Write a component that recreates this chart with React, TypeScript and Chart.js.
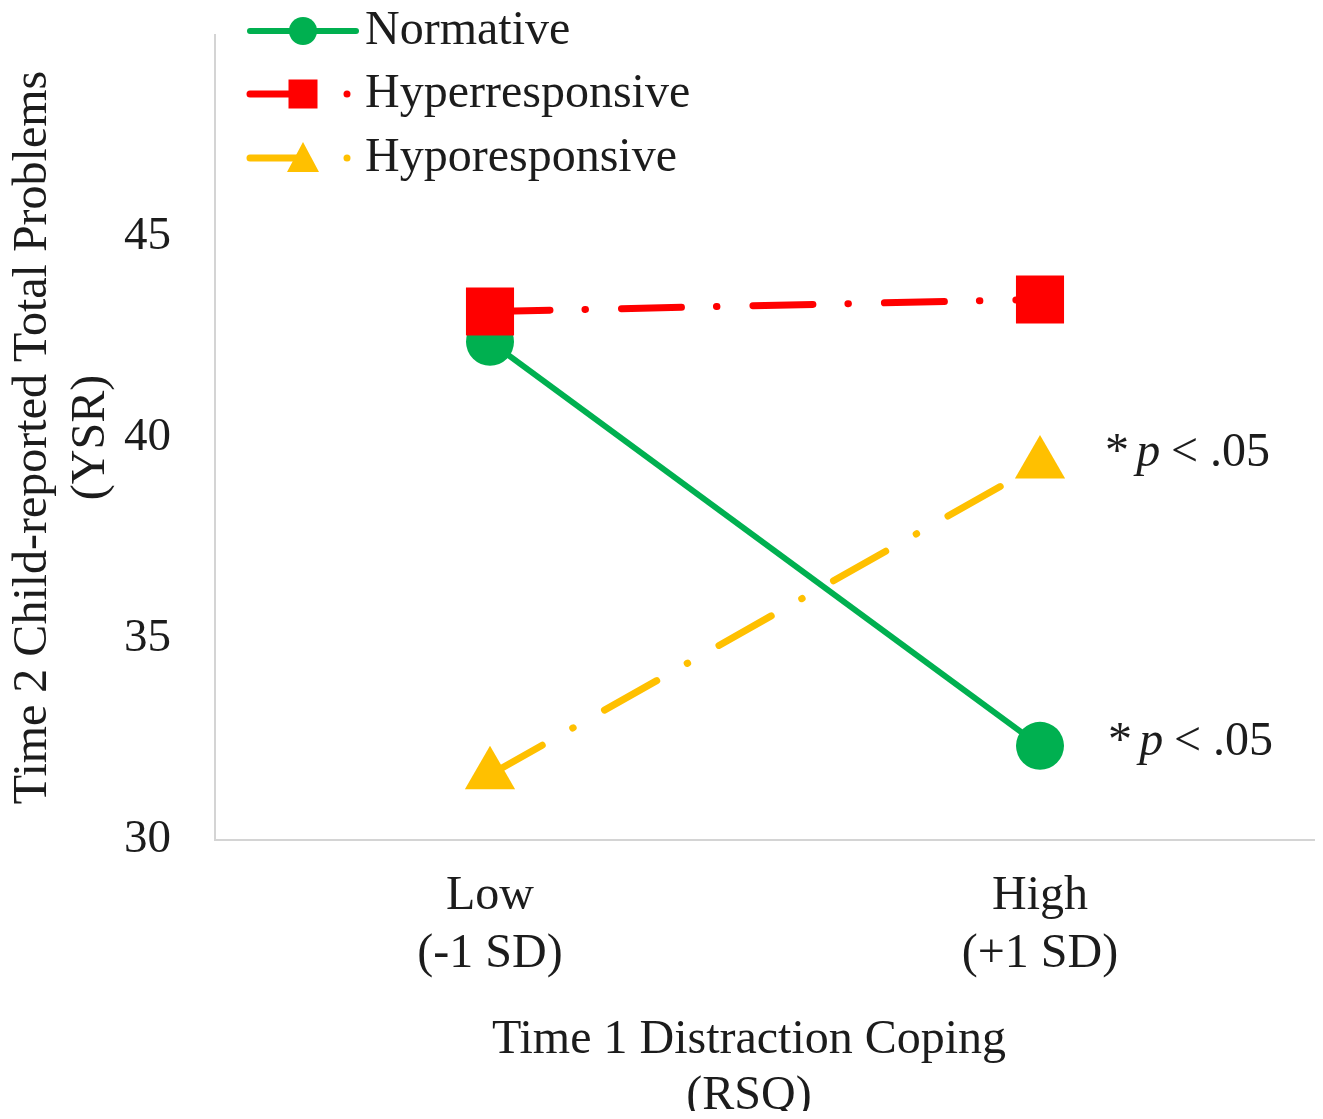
import React, { useEffect, useRef } from 'react';
import { Chart, registerables } from 'chart.js';

Chart.register(...registerables);

// ---- data ----
const categories: string[][] = [['Low', '(-1 SD)'], ['High', '(+1 SD)']];
const seriesNames = ['Normative', 'Hyperresponsive', 'Hyporesponsive'];
const normative = [42.38, 32.34];
const hyperresponsive = [43.13, 43.43];
const hyporesponsive = [31.62, 39.34];
const yTickValues = [30, 35, 40, 45];
const yAxisTitle = ['Time 2 Child-reported Total Problems', '(YSR)'];
const xAxisTitle = ['Time 1 Distraction Coping', '(RSQ)'];
const significanceLabel = ['*', 'p', '< .05'];
// which points carry the significance label: [dataset index, point index]
const significantPoints = [[2, 1], [0, 1]];

const GREEN = '#00B050';
const RED = '#FF0000';
const YELLOW = '#FFC000';
const TEXT = '#1c1c1c';
const FONT = 'Liberation Serif';
const FS = 48;

const overlayPlugin = {
  id: 'overlay',
  afterDraw(chart: any) {
    const ctx = chart.ctx;
    const ca = chart.chartArea;
    ctx.save();
    // legend
    const lx0 = ca.left + 35;
    const lx1 = ca.left + 141;
    const mx = ca.left + 88;
    const dotX = ca.left + 132;
    const tx = ca.left + 150;
    const rows = [ca.top - 4, ca.top + 59, ca.top + 123];
    const colors = [GREEN, RED, YELLOW];
    rows.forEach((y, i) => {
      const c = colors[i];
      ctx.strokeStyle = c;
      ctx.fillStyle = c;
      ctx.lineCap = 'round';
      ctx.setLineDash([]);
      if (i === 0) {
        ctx.lineWidth = 6;
        ctx.beginPath();
        ctx.moveTo(lx0, y);
        ctx.lineTo(lx1, y);
        ctx.stroke();
        ctx.beginPath();
        ctx.arc(mx, y, 14, 0, Math.PI * 2);
        ctx.fill();
      } else {
        ctx.lineWidth = 7;
        ctx.beginPath();
        ctx.moveTo(lx0, y);
        ctx.lineTo(mx, y);
        ctx.stroke();
        if (i === 1) {
          ctx.fillRect(mx - 14.5, y - 14.5, 29, 29);
        } else {
          ctx.beginPath();
          ctx.moveTo(mx, y - 16);
          ctx.lineTo(mx + 16, y + 14);
          ctx.lineTo(mx - 16, y + 14);
          ctx.closePath();
          ctx.fill();
        }
        ctx.beginPath();
        ctx.arc(dotX, y, 3.5, 0, Math.PI * 2);
        ctx.fill();
      }
      ctx.fillStyle = TEXT;
      ctx.font = `${FS}px "${FONT}"`;
      ctx.textAlign = 'left';
      ctx.textBaseline = 'middle';
      ctx.fillText(seriesNames[i], tx, y);
    });

    // x-axis title (slightly left of the plot centre, as in the original)
    ctx.fillStyle = TEXT;
    ctx.font = `${FS}px "${FONT}"`;
    ctx.textAlign = 'center';
    ctx.textBaseline = 'middle';
    const xc = (ca.left + ca.right) / 2 - 16;
    xAxisTitle.forEach((line, i) => {
      ctx.fillText(line, xc, ca.bottom + 200 + i * 56);
    });

    // significance labels
    const offsets = [-11, -3];
    significantPoints.forEach(([di, pi], k) => {
      const el = chart.getDatasetMeta(di).data[pi];
      let x = el.x + 65 + (k === 1 ? 3 : 0);
      const y = el.y + offsets[k];
      ctx.fillStyle = TEXT;
      ctx.textAlign = 'left';
      ctx.textBaseline = 'middle';
      significanceLabel.forEach((part, j) => {
        ctx.font = j === 1 ? `italic ${FS}px "${FONT}"` : `${FS}px "${FONT}"`;
        ctx.fillText(part, x, y);
        x += ctx.measureText(part).width + ctx.measureText(' ').width * (j === 1 ? 0.9 : 0.6);
      });
    });
    ctx.restore();
  },
};

const zeroPadding = (s: any) => {
  s.paddingTop = 0;
  s.paddingBottom = 0;
  s.paddingLeft = 0;
  s.paddingRight = 0;
};

export default function App() {
  const ref = useRef<HTMLCanvasElement | null>(null);
  useEffect(() => {
    if (!ref.current) return;
    const dash = [60, 35, 0.5, 36];
    const chart = new Chart(ref.current, {
      type: 'line',
      data: {
        labels: categories,
        datasets: [
          {
            label: seriesNames[0],
            data: normative,
            borderColor: GREEN,
            backgroundColor: GREEN,
            borderWidth: 6,
            pointStyle: 'circle',
            pointRadius: 24,
            pointBorderWidth: 0,
            tension: 0,
            order: 1,
          },
          {
            label: seriesNames[1],
            data: hyperresponsive,
            borderColor: RED,
            backgroundColor: RED,
            borderWidth: 7,
            borderDash: dash,
            borderCapStyle: 'round',
            pointStyle: 'rect',
            pointRadius: 34,
            pointBorderWidth: 0,
            tension: 0,
            order: 0,
          },
          {
            label: seriesNames[2],
            data: hyporesponsive,
            borderColor: YELLOW,
            backgroundColor: YELLOW,
            borderWidth: 7,
            borderDash: dash,
            borderCapStyle: 'round',
            pointStyle: 'triangle',
            pointRadius: 29,
            pointBorderWidth: 0,
            tension: 0,
            order: 2,
          },
        ],
      },
      options: {
        animation: false,
        responsive: false,
        maintainAspectRatio: false,
        layout: { autoPadding: false, padding: { top: 27, right: 0, bottom: 0, left: 0 } },
        plugins: {
          legend: { display: false },
          tooltip: { enabled: false },
        },
        scales: {
          x: {
            type: 'category',
            offset: true,
            grid: { display: false, drawTicks: false },
            border: { display: true, color: '#d4d4d4', width: 2 },
            ticks: {
              color: TEXT,
              padding: 28,
              font: { family: FONT, size: FS, lineHeight: 1.2 },
              maxRotation: 0,
              autoSkip: false,
            },
            title: { display: false },
            afterFit: (s: any) => {
              s.height = 271;
              zeroPadding(s);
            },
          },
          y: {
            min: 30,
            max: 50,
            grid: { display: false, drawTicks: false },
            border: { display: true, color: '#d4d4d4', width: 2 },
            afterBuildTicks: (s: any) => {
              s.ticks = [...yTickValues, 50].map((v) => ({ value: v }));
            },
            ticks: {
              color: TEXT,
              padding: 44,
              font: { family: FONT, size: 47, lineHeight: 1.2 },
              callback: (v: any) => (yTickValues.includes(Number(v)) ? String(v) : ''),
            },
            title: {
              display: true,
              text: yAxisTitle,
              color: TEXT,
              font: { family: FONT, size: FS, lineHeight: 1.2 },
              padding: { top: -3, bottom: 0 },
            },
            afterFit: (s: any) => {
              s.width = 207;
              zeroPadding(s);
            },
          },
        },
      },
      plugins: [overlayPlugin],
    } as any);
    return () => chart.destroy();
  }, []);
  return (
    <div style={{ width: 1307, height: 1103, position: 'relative' }}>
      <canvas ref={ref} width={1307} height={1103} style={{ display: 'block', width: 1307, height: 1103 }} />
    </div>
  );
}
